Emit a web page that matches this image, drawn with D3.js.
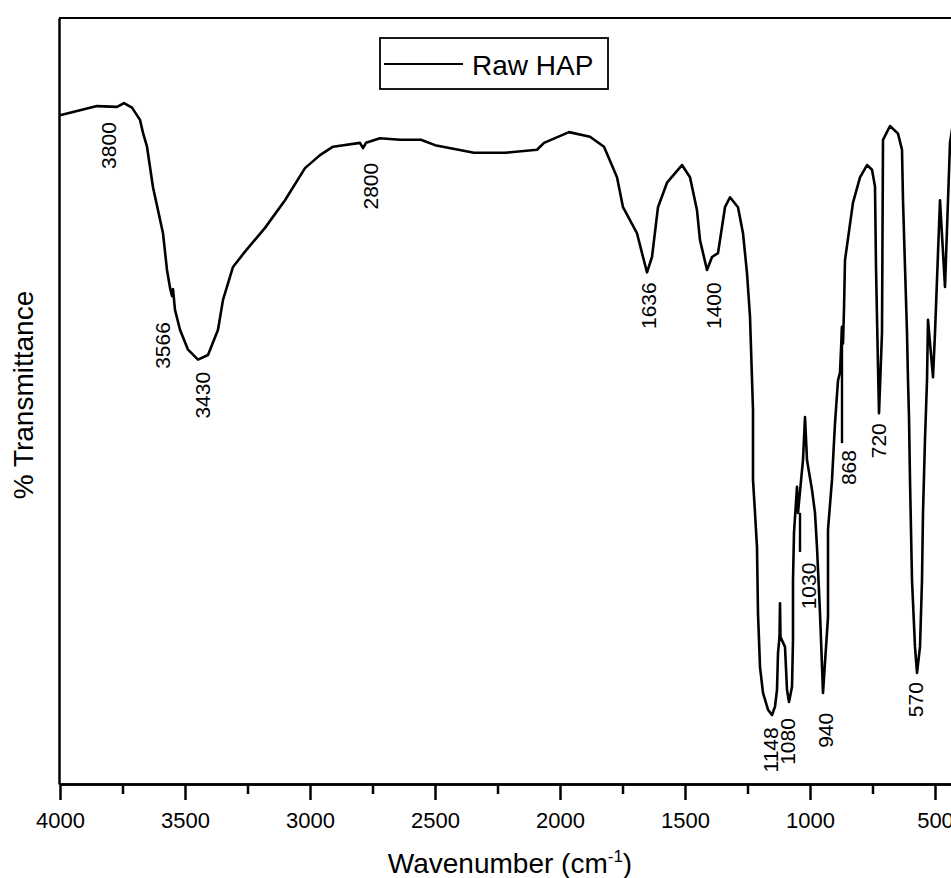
<!DOCTYPE html>
<html lang="en">
<head>
    <meta charset="UTF-8">
    <title>Raw HAP FTIR</title>
    <style>
        body {
            margin: 0;
            background-color: #fff;
        }

        #chart {
            display: block;
            overflow: hidden;
        }

        text {
            font-family: "Liberation Sans", Arial, Helvetica, sans-serif;
            fill: #000;
        }

        .axis path,
        .axis line {
            stroke: #000;
            stroke-width: 2.5;
        }
    </style>
</head>
<body>
    <svg id="chart" width="951" height="878"></svg>

    <script src="https://cdnjs.cloudflare.com/ajax/libs/d3/7.8.5/d3.min.js"></script>
    <script>
        // spectrum: [wavenumber, %T]
        const wavenumbers = [4000, 3852, 3772, 3744, 3712, 3680, 3668, 3652, 3628, 3588, 3572, 3560, 3552, 3548, 3540,
            3520, 3488, 3448, 3408, 3368, 3348, 3308, 3260, 3180, 3100, 3020, 2960, 2908, 2800, 2788, 2776, 2720, 2640, 2556,
            2500, 2344, 2220, 2092, 2064, 1964, 1880, 1824, 1772, 1748, 1692, 1668, 1652, 1632, 1608, 1572, 1512,
            1480, 1452, 1440, 1412, 1392, 1368, 1340, 1320, 1288, 1268, 1252, 1240, 1228, 1228, 1220, 1212, 1208,
            1200, 1188, 1168, 1152, 1140, 1132, 1128, 1122, 1120, 1118, 1100, 1092, 1084, 1072, 1068, 1068, 1064,
            1052, 1048, 1028, 1020, 1012, 992, 980, 972, 960, 948, 928, 928, 912, 900, 888, 880, 872, 868, 864,
            860, 828, 800, 772, 752, 740, 736, 728, 724, 712, 708, 680, 648, 632, 628, 620, 612, 608, 604, 600,
            592, 580, 572, 560, 552, 548, 540, 532, 528, 508, 500, 480, 460, 440, 420];
        const transmittance = [87.3, 88.5, 88.4, 88.9, 88.3, 86.7, 85.0, 83.2, 77.9, 71.9, 67.1, 64.8, 63.7, 64.6, 61.9,
            59.3, 56.7, 55.4, 56.0, 59.3, 63.2, 67.5, 69.5, 72.6, 76.2, 80.4, 82.1, 83.2, 83.7, 83.0, 83.7, 84.3, 84.1, 84.1,
            83.4, 82.4, 82.4, 82.8, 83.7, 85.1, 84.5, 83.2, 79.2, 75.3, 71.9, 68.8, 66.8, 68.8, 75.3, 78.5, 80.8,
            79.2, 74.9, 71.0, 67.1, 68.8, 69.3, 75.3, 76.6, 75.3, 71.9, 66.7, 61.0, 48.8, 39.7, 35.4, 30.9, 22.3,
            15.3, 11.9, 9.7, 9.0, 10.1, 12.3, 17.1, 19.2, 23.6, 19.2, 17.9, 12.3, 10.7, 12.7, 18.8, 26.6, 32.8,
            38.8, 35.4, 42.3, 47.9, 42.3, 38.4, 35.4, 30.9, 22.3, 11.9, 21.8, 33.2, 39.7, 47.1, 52.7, 53.7, 59.7, 57.5, 62.0,
            68.4, 75.9, 79.2, 80.8, 80.2, 78.0, 67.5, 54.4, 48.4, 58.9, 84.1, 85.9, 84.9, 82.8, 76.2, 67.5, 58.9, 52.7, 47.9, 39.7,
            26.6, 17.9, 14.5, 17.9, 26.6, 35.4, 45.0, 52.7, 60.6, 53.1, 58.9, 76.2, 64.9, 83.7, 88.0];

        // peak annotations: text, wavenumber (x), %T at the top of the rotated text
        const peakLabels = ['3800', '3566', '3430', '2800', '1636', '1400', '1148', '1080', '1030', '940', '868', '720', '570'];
        const peakX = [3808, 3592, 3432, 2760, 1648, 1388, 1160, 1092, 1008, 940, 848, 728, 580];
        const peakTop = [86.4, 60.3, 53.8, 81.1, 65.5, 65.5, 7.4, 8.6, 28.9, 9.3, 43.6, 47.1, 13.3];

        // short leader lines: wavenumber, %T from, %T to
        const leaderX = [1040, 872];
        const leaderFrom = [35.4, 59.7];
        const leaderTo = [30.3, 44.5];

        const majorTicks = [4000, 3500, 3000, 2500, 2000, 1500, 1000, 500];
        const minorTicks = [3750, 3250, 2750, 2250, 1750, 1250, 750];

        const seriesName = 'Raw HAP';

        let svg = d3.select('#chart');

        let x = d3.scaleLinear()
            .domain([4000, 400])
            .range([60, 960]);

        let y = d3.scaleLinear()
            .domain([0, 100])
            .range([784, 18]);

        // frame: top border (no right border visible in the scan)
        svg.append('line')
            .attr('x1', x(4000) - 1)
            .attr('x2', 951)
            .attr('y1', y(100))
            .attr('y2', y(100))
            .attr('stroke', '#000')
            .attr('stroke-width', 2.2);

        let axisMinor = d3.axisBottom(x)
            .tickValues(minorTicks)
            .tickSize(10)
            .tickSizeOuter(0)
            .tickFormat('');
        svg.append('g')
            .attr('class', 'axis')
            .attr('transform', `translate(0,${y(0)})`)
            .call(axisMinor);

        let axisMajor = d3.axisBottom(x)
            .tickValues(majorTicks)
            .tickSize(16)
            .tickSizeOuter(0)
            .tickFormat(d3.format('d'));
        let gx = svg.append('g')
            .attr('class', 'axis')
            .attr('transform', `translate(0,${y(0)})`)
            .call(axisMajor);
        gx.selectAll('text')
            .attr('y', 28)
            .attr('dy', '0.71em')
            .style('font-size', '22px');

        let axisValue = d3.axisLeft(y)
            .tickValues([])
            .tickSizeOuter(0);
        svg.append('g')
            .attr('class', 'axis')
            .attr('transform', `translate(${x(4000) - 1},0)`)
            .call(axisValue);

        // spectrum
        let spectrum = d3.zip(wavenumbers, transmittance);
        let line = d3.line()
            .x(d => x(d[0]))
            .y(d => y(d[1]));

        svg.append('path')
            .datum(spectrum)
            .attr('d', line)
            .attr('fill', 'none')
            .attr('stroke', '#000')
            .attr('stroke-width', 2.6)
            .attr('stroke-linejoin', 'round');

        svg.selectAll('line.leader')
            .data(leaderX)
            .join('line')
            .attr('class', 'leader')
            .attr('x1', d => x(d))
            .attr('x2', d => x(d))
            .attr('y1', (d, i) => y(leaderFrom[i]))
            .attr('y2', (d, i) => y(leaderTo[i]))
            .attr('stroke', '#000')
            .attr('stroke-width', 2.4);

        svg.selectAll('text.peak')
            .data(peakLabels)
            .join('text')
            .attr('class', 'peak')
            .attr('transform', (d, i) => `translate(${x(peakX[i])},${y(peakTop[i])}) rotate(-90)`)
            .attr('text-anchor', 'end')
            .attr('dominant-baseline', 'central')
            .style('font-size', '21px')
            .text(d => d);

        // legend
        let legend = svg.append('g');
        legend.append('rect')
            .attr('x', 380)
            .attr('y', 38)
            .attr('width', 228)
            .attr('height', 51)
            .attr('fill', '#fff')
            .attr('stroke', '#000')
            .attr('stroke-width', 1.8);
        legend.append('line')
            .attr('x1', 384)
            .attr('x2', 463)
            .attr('y1', 64)
            .attr('y2', 64)
            .attr('stroke', '#000')
            .attr('stroke-width', 2);
        legend.append('text')
            .attr('x', 472)
            .attr('y', 75)
            .style('font-size', '28px')
            .text(seriesName);

        // axis titles
        let xTitle = svg.append('text')
            .attr('x', 510)
            .attr('y', 873)
            .attr('text-anchor', 'middle')
            .style('font-size', '28px');
        xTitle.append('tspan').text('Wavenumber (cm');
        xTitle.append('tspan').attr('dy', -11).style('font-size', '17px').text('-1');
        xTitle.append('tspan').attr('dy', 11).text(')');

        svg.append('text')
            .attr('transform', 'translate(33,395) rotate(-90)')
            .attr('text-anchor', 'middle')
            .style('font-size', '28px')
            .text('% Transmittance');
    </script>
</body>
</html>
